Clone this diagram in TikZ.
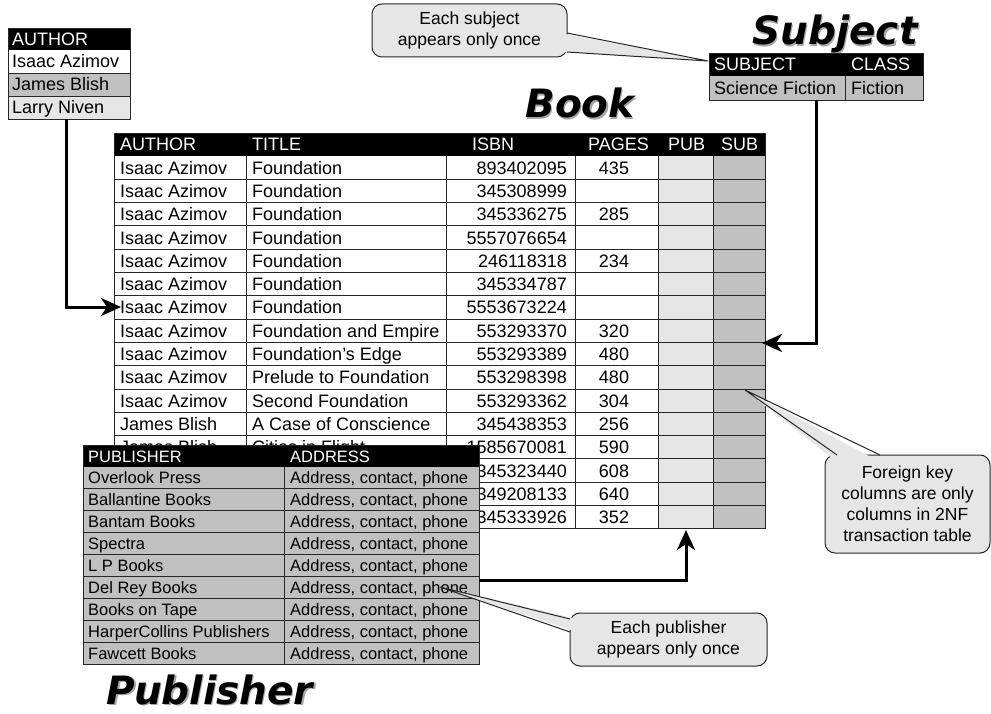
\documentclass[tikz,border=0pt]{standalone}
\usepackage{fontspec}
\setmainfont{Liberation Sans}
\newfontfamily\titlefont{DejaVu Sans}
\usetikzlibrary{arrows.meta}
\definecolor{lgray}{HTML}{E6E6E6}
\definecolor{mgray}{HTML}{C0C0C0}
\newcommand\tabfont{\fontsize{18}{20}\selectfont}
\newcommand\pubfont{\fontsize{16.5}{19}\selectfont}
\newcommand\callfont{\fontsize{17.5}{21}\selectfont}
\newcommand\ttlfont{\titlefont\bfseries\itshape\fontsize{39}{42}\selectfont}
\begin{document}
\begin{tikzpicture}[x=1pt,y=-1pt,
  grid/.style={draw=black!85, line width=0.9pt},
  hdr/.style={anchor=base west, inner sep=0pt, text=white},
  cl/.style={anchor=base west, inner sep=0pt},
  cr/.style={anchor=base east, inner sep=0pt},
  cc/.style={anchor=base, inner sep=0pt},
  callout/.style={draw=black!85, line width=1pt, fill=lgray, rounded corners=10pt, align=center, font=\callfont, inner sep=0pt},
  tailline/.style={draw=black!85, line width=1pt},
  link/.style={line width=3pt, -{Stealth[length=20pt,width=18pt,inset=6pt]}},
  ttl/.style={font=\ttlfont, anchor=base, inner sep=0pt},
  shadow/.style={text=black!35}
]
\useasboundingbox (0,0) rectangle (991,714);

% ---------- Titles ----------
\node[ttl,shadow] (tBookS) at (581.2,119.2) {Book};
\node[ttl] (tBook) at (580,118) {Book};
\node[ttl,shadow] (tSubjS) at (836.2,46.2) {Subject};
\node[ttl] (tSubj) at (835,45) {Subject};
\node[ttl,shadow] (tPubS) at (211.2,705.2) {Publisher};
\node[ttl] (tPub) at (210,704) {Publisher};

% ---------- Author table ----------
\fill[black] (8,28) rectangle (130,50);
\fill[white] (8,50) rectangle (130,73);
\fill[mgray] (8,73) rectangle (130,96);
\fill[lgray] (8,96) rectangle (130,119);
\draw[grid] (8,73) -- (130,73) (8,96) -- (130,96);
\draw[grid] (8,28) rectangle (130,119);
\begin{scope}[font=\tabfont]
\node[hdr] (ah) at (12,45.5) {AUTHOR};
\node[cl] (a1) at (12,68) {Isaac Azimov};
\node[cl] (a2) at (12,91) {James Blish};
\node[cl] (a3) at (12,114) {Larry Niven};
\end{scope}

% ---------- Subject table ----------
\fill[black] (709,53) rectangle (923,76);
\fill[mgray] (709,76) rectangle (923,100);
\draw[grid] (709,53) rectangle (923,100);
\draw[grid] (845,76) -- (845,100);
\begin{scope}[font=\tabfont]
\node[hdr] (sh1) at (714,71) {SUBJECT};
\node[hdr] (sh2) at (851,71) {CLASS};
\node[cl] (s1) at (714,94.5) {Science Fiction};
\node[cl] (s2) at (851,94.5) {Fiction};
\end{scope}

% ---------- Book table ----------
\fill[black] (114,133) rectangle (765,156);
\fill[white] (114,156) rectangle (658,528.8);
\fill[lgray] (658,156) rectangle (713,528.8);
\fill[mgray] (713,156) rectangle (765,528.8);
\foreach \k in {1,...,15} \draw[grid] (114,{156+\k*23.3}) -- (765,{156+\k*23.3});
\foreach \x in {246,446,575,658,713} \draw[grid] (\x,156) -- (\x,528.8);
\draw[grid] (114,133) rectangle (765,528.8);
\begin{scope}[font=\tabfont]
\node[hdr] (bh1) at (120,151) {AUTHOR};
\node[hdr] (bh2) at (252,151) {TITLE};
\node[hdr] (bh3) at (472,151) {ISBN};
\node[hdr] (bh4) at (588,151) {PAGES};
\node[hdr] (bh5) at (668,151) {PUB};
\node[hdr] (bh6) at (721,151) {SUB};
\foreach \i/\au/\ti/\isbn/\pg in {
  1/Isaac Azimov/Foundation/893402095/435,
  2/Isaac Azimov/Foundation/345308999/,
  3/Isaac Azimov/Foundation/345336275/285,
  4/Isaac Azimov/Foundation/5557076654/,
  5/Isaac Azimov/Foundation/246118318/234,
  6/Isaac Azimov/Foundation/345334787/,
  7/Isaac Azimov/Foundation/5553673224/,
  8/Isaac Azimov/Foundation and Empire/553293370/320,
  9/Isaac Azimov/Foundation’s Edge/553293389/480,
  10/Isaac Azimov/Prelude to Foundation/553298398/480,
  11/Isaac Azimov/Second Foundation/553293362/304,
  12/James Blish/A Case of Conscience/345438353/256,
  13/James Blish/Cities in Flight/1585670081/590,
  14///345323440/608,
  15///349208133/640,
  16///345333926/352}{
  \pgfmathsetmacro\yb{156+23.3*(\i-0.5)+6.5}
  \node[cl] (au\i) at (120,\yb) {\au};
  \node[cl] (ti\i) at (252,\yb) {\ti};
  \node[cr] (is\i) at (567,\yb) {\isbn};
  \node[cc] (pg\i) at (614,\yb) {\pg};
}
\end{scope}

% ---------- Publisher table ----------
\fill[black] (83,445) rectangle (479,467);
\fill[mgray] (83,467) rectangle (479,664.1);
\foreach \k in {1,...,8} \draw[grid] (83,{467+\k*21.9}) -- (479,{467+\k*21.9});
\draw[grid] (284,467) -- (284,664.1);
\draw[grid] (83,445) rectangle (479,664.1);
\begin{scope}[font=\pubfont]
\node[hdr] (ph1) at (88,462) {PUBLISHER};
\node[hdr] (ph2) at (290,462) {ADDRESS};
\foreach \j/\pn in {1/Overlook Press,2/Ballantine Books,3/Bantam Books,4/Spectra,5/L P Books,6/Del Rey Books,7/Books on Tape,8/HarperCollins Publishers,9/Fawcett Books}{
  \pgfmathsetmacro\yb{467+21.9*(\j-0.5)+6}
  \node[cl] (pn\j) at (88,\yb) {\pn};
  \node[cl] (pa\j) at (290,\yb) {Address, contact, phone};
}
\end{scope}

% ---------- Callouts ----------
\coordinate (subjTip) at (708,61);
\coordinate (c1a) at (567,33);
\coordinate (c1b) at (567,52);
\node[callout, minimum width=195pt, minimum height=53pt] (c1) at (469.5,30.5) {Each subject\\appears only once};
\fill[lgray] (560,33) -- (subjTip) -- (560,52) -- cycle;
\draw[tailline] (c1a) -- (subjTip) -- (c1b);

\coordinate (pubTip) at (440,587);
\coordinate (c2a) at (570,619);
\coordinate (c2b) at (570,632);
\node[callout, minimum width=197pt, minimum height=53pt] (c2) at (668.5,639.5) {Each publisher\\appears only once};
\fill[lgray] (577,619) -- (pubTip) -- (577,632) -- cycle;
\draw[tailline] (c2a) -- (pubTip) -- (c2b);

\coordinate (fkTip) at (745,390);
\coordinate (c3a) at (837,455);
\coordinate (c3b) at (880,455);
\node[callout, minimum width=165pt, minimum height=98pt] (c3) at (907.5,504) {Foreign key\\columns are only\\columns in 2NF\\transaction table};
\fill[lgray] (837,462) -- (fkTip) -- (880,462) -- cycle;
\draw[tailline] (c3a) -- (fkTip) -- (c3b);

% ---------- Connectors ----------
\coordinate (aBot) at (66,119);
\coordinate (aTip) at (121,307);
\draw[link] (aBot) |- (aTip);
\coordinate (sBot) at (816,100);
\coordinate (sTip) at (762,343);
\draw[link] (sBot) |- (sTip);
\coordinate (pOut) at (479,580);
\coordinate (pTip) at (686,530);
\draw[link] (pOut) -| (pTip);
\end{tikzpicture}
\end{document}
